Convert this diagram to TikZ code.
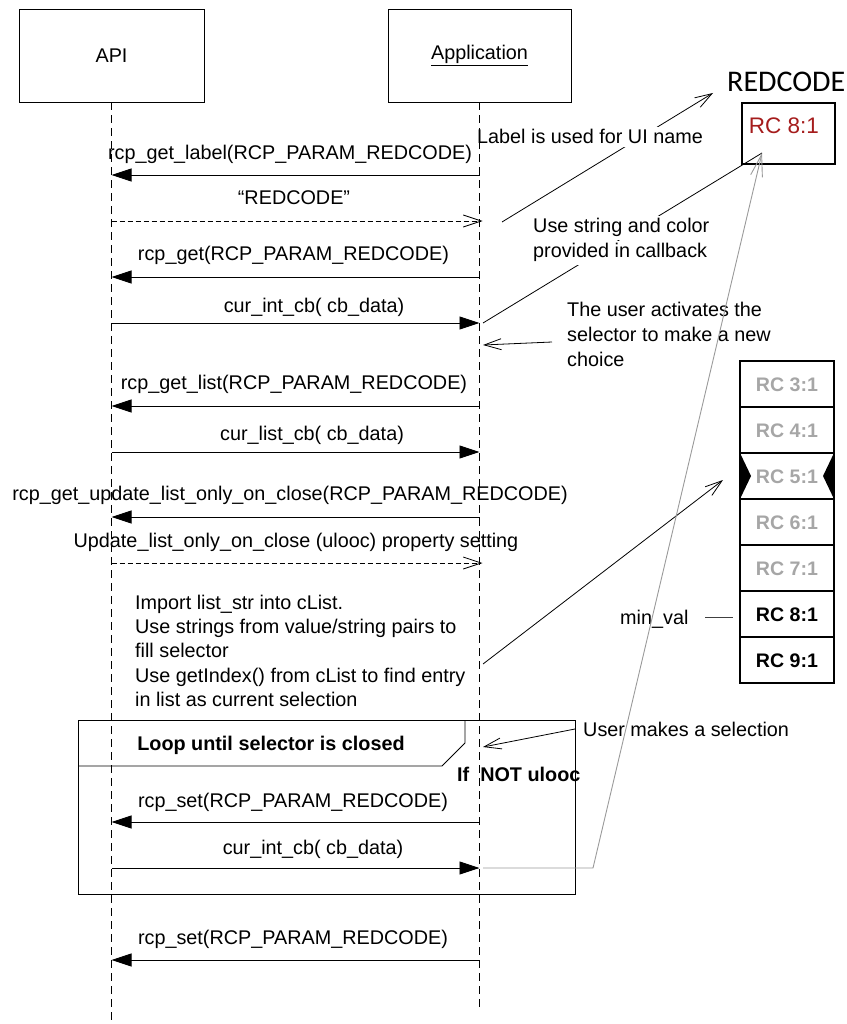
\documentclass[tikz,border=0pt]{standalone}
\usepackage{fontspec}
\setmainfont{Liberation Sans}
\newfontfamily\carlitofont{Carlito}
\usetikzlibrary{arrows.meta}
\definecolor{rcred}{HTML}{A51C1C}
\definecolor{rcgray}{HTML}{A6A6A6}
\definecolor{linkgray}{HTML}{9A9A9A}
\begin{document}
\begin{tikzpicture}[x=1pt,y=-1pt,
  txt/.style={font=\fontsize{19.8}{24.3}\selectfont, inner sep=0pt, anchor=base},
  txtl/.style={txt, anchor=base west},
  boldtxt/.style={txt, font=\fontsize{19.8}{24.3}\selectfont\bfseries},
  boldl/.style={boldtxt, anchor=base west},
  notetxt/.style={txtl, fill=white, inner xsep=0pt, inner ysep=3pt},
  actor/.style={draw, line width=0.8pt, minimum height=93pt, inner sep=0pt,
    font=\fontsize{19.8}{24}\selectfont},
  lifeline/.style={line width=0.8pt, dash pattern=on 8pt off 5pt},
  call/.style={line width=0.9pt, -{Triangle[length=20pt,width=13pt]}},
  ret/.style={line width=0.8pt, dash pattern=on 5pt off 3pt, -{Straight Barb[length=18pt,width=12pt]}},
  note/.style={line width=0.8pt, -{Straight Barb[length=17pt,width=11pt]}},
  selrow/.style={draw, line width=2pt, minimum width=94pt, minimum height=46pt, inner sep=0pt},
  sellabel/.style={font=\fontsize{19.6}{22}\selectfont\bfseries, inner sep=0pt, anchor=base}
]
\useasboundingbox (0,0) rectangle (846,1024);

% ---------- note connectors (drawn under their texts) ----------
\coordinate (labfrom) at (502,222);
\coordinate (labto) at (713,93);
\draw[note] (labfrom) -- (labto);
\coordinate (usefrom) at (483,323);
\coordinate (useto) at (762,153);
\draw[line width=0.8pt] (usefrom) -- (useto);

% ---------- note texts ----------
\node[notetxt] (n1) at (477,144) {Label is used for UI name};
\node[notetxt] (n2a) at (533,233) {Use string and color};
\node[notetxt] (n2b) at (533,258) {provided in callback};
\node[txtl] (n3a) at (567,316) {The user activates the};
\node[txtl] (n3b) at (567,341) {selector to make a new};
\node[txtl] (n3c) at (567,366) {choice};
\node[txtl] (n4) at (583,736) {User makes a selection};
\node[txtl] (minval) at (620,624) {min\_val};

% ---------- actors and lifelines ----------
\node[actor, minimum width=185pt] (api) at (111.5,55.5) {API};
\node[actor, minimum width=183pt] (app) at (479.5,55.5) {\underline{Application}};
\coordinate (apiend) at (111.5,1024);
\coordinate (append) at (479.5,1007);
\draw[lifeline] (api.south) -- (apiend);
\draw[lifeline] (app.south) -- (append);

% ---------- loop frame ----------
\draw[line width=1pt] (78,720) rectangle (575,894);
\draw[line width=0.8pt] (465,720) -- (465,743) -- (442,766) -- (78,766);
\node[boldtxt] (looptitle) at (271,750) {Loop until selector is closed};
\node[boldl] (cond) at (457,781) {If\ \ NOT ulooc};

% ---------- messages ----------
\foreach \n/\y in {1/175,2/221,3/277,4/323,5/406,6/452,7/517,8/563,9/822,10/868,11/960} {
  \coordinate (L\n) at (api.south |- 0,\y);
  \coordinate (R\n) at (app.south |- 0,\y);
}
\draw[call] (R1) -- (L1);
\draw[ret] (L2) -- ([xshift=3pt]R2);
\draw[call] (R3) -- (L3);
\draw[call] (L4) -- (R4);
\draw[call] (R5) -- (L5);
\draw[call] (L6) -- (R6);
\draw[call] (R7) -- (L7);
\draw[ret] (L8) -- ([xshift=3pt]R8);
\draw[call] (R9) -- (L9);
\draw[call] (L10) -- (R10);
\draw[call] (R11) -- (L11);

\node[txt] (t1) at (290,160) {rcp\_get\_label(RCP\_PARAM\_REDCODE)};
\node[txt] (t2) at (294,205) {“REDCODE”};
\node[txt] (t3) at (293.5,260) {rcp\_get(RCP\_PARAM\_REDCODE)};
\node[txt] (t4) at (314,312) {cur\_int\_cb( cb\_data)};
\node[txt] (t5) at (294,389) {rcp\_get\_list(RCP\_PARAM\_REDCODE)};
\node[txt] (t6) at (312,440) {cur\_list\_cb( cb\_data)};
\node[txt] (t7) at (290,500) {rcp\_get\_update\_list\_only\_on\_close(RCP\_PARAM\_REDCODE)};
\node[txt] (t8) at (296,547) {Update\_list\_only\_on\_close (ulooc) property setting};
\node[txtl] (b1) at (135,609) {Import list\_str into cList.};
\node[txtl] (b2) at (135,633) {Use strings from value/string pairs to};
\node[txtl] (b3) at (135,657) {fill selector};
\node[txtl] (b4) at (135,682) {Use getIndex() from cList to find entry};
\node[txtl] (b5) at (135,706) {in list as current selection};
\node[txt] (t9) at (293,807) {rcp\_set(RCP\_PARAM\_REDCODE)};
\node[txt] (t10) at (313,854) {cur\_int\_cb( cb\_data)};
\node[txt] (t11) at (293,944) {rcp\_set(RCP\_PARAM\_REDCODE)};

% ---------- note arrows to lifeline ----------
\coordinate (actfrom) at (552,342);
\coordinate (actto) at (483,345);
\draw[note] (actfrom) -- (actto);
\coordinate (selfrom) at (575,729);
\coordinate (selto) at (483,747);
\draw[note] (selfrom) -- (selto);
\coordinate (entryfrom) at (483,664);
\coordinate (entryto) at (723,480);
\draw[note] (entryfrom) -- (entryto);
\coordinate (mvfrom) at (705,617);
\coordinate (mvto) at (733,617);
\draw[line width=0.8pt, black!75] (mvfrom) -- (mvto);

% ---------- REDCODE control ----------
\node[anchor=base west, inner sep=0pt, font=\carlitofont\fontsize{30}{32}\selectfont] (rclabel) at (727,92) {REDCODE};
\node[draw, line width=2pt, minimum width=93pt, minimum height=61pt, inner sep=0pt, anchor=north west] (rcbox) at (741,102) {};
\node[anchor=base, inner sep=0pt, text=rcred, font=\fontsize{22.5}{24}\selectfont] (rctext) at (784,134) {RC 8:1};

% ---------- selector list ----------
\node[selrow] (r3) at (787,384) {};
\node[selrow] (r4) at (787,430) {};
\node[selrow] (r5) at (787,476) {};
\node[selrow] (r6) at (787,522) {};
\node[selrow] (r7) at (787,568) {};
\node[selrow] (r8) at (787,614) {};
\node[selrow] (r9) at (787,660) {};
\fill (740,453) -- (751,476) -- (740,499) -- cycle;
\fill (834,453) -- (823,476) -- (834,499) -- cycle;
\node[sellabel, text=rcgray] (l3) at (787,391) {RC 3:1};
\node[sellabel, text=rcgray] (l4) at (787,437) {RC 4:1};
\node[sellabel, text=rcgray] (l5) at (787,483) {RC 5:1};
\node[sellabel, text=rcgray] (l6) at (787,529) {RC 6:1};
\node[sellabel, text=rcgray] (l7) at (787,575) {RC 7:1};
\node[sellabel] (l8) at (787,621) {RC 8:1};
\node[sellabel] (l9) at (787,667) {RC 9:1};

% ---------- grey feedback line ----------
\coordinate (gstart) at (483,868);
\coordinate (gbend) at (593,868);
\coordinate (gtip) at (762,153);
\draw[line width=0.9pt, linkgray, -{Straight Barb[length=22pt,width=12pt]}] (gstart) -- (gbend) -- (gtip);
\end{tikzpicture}
\end{document}
